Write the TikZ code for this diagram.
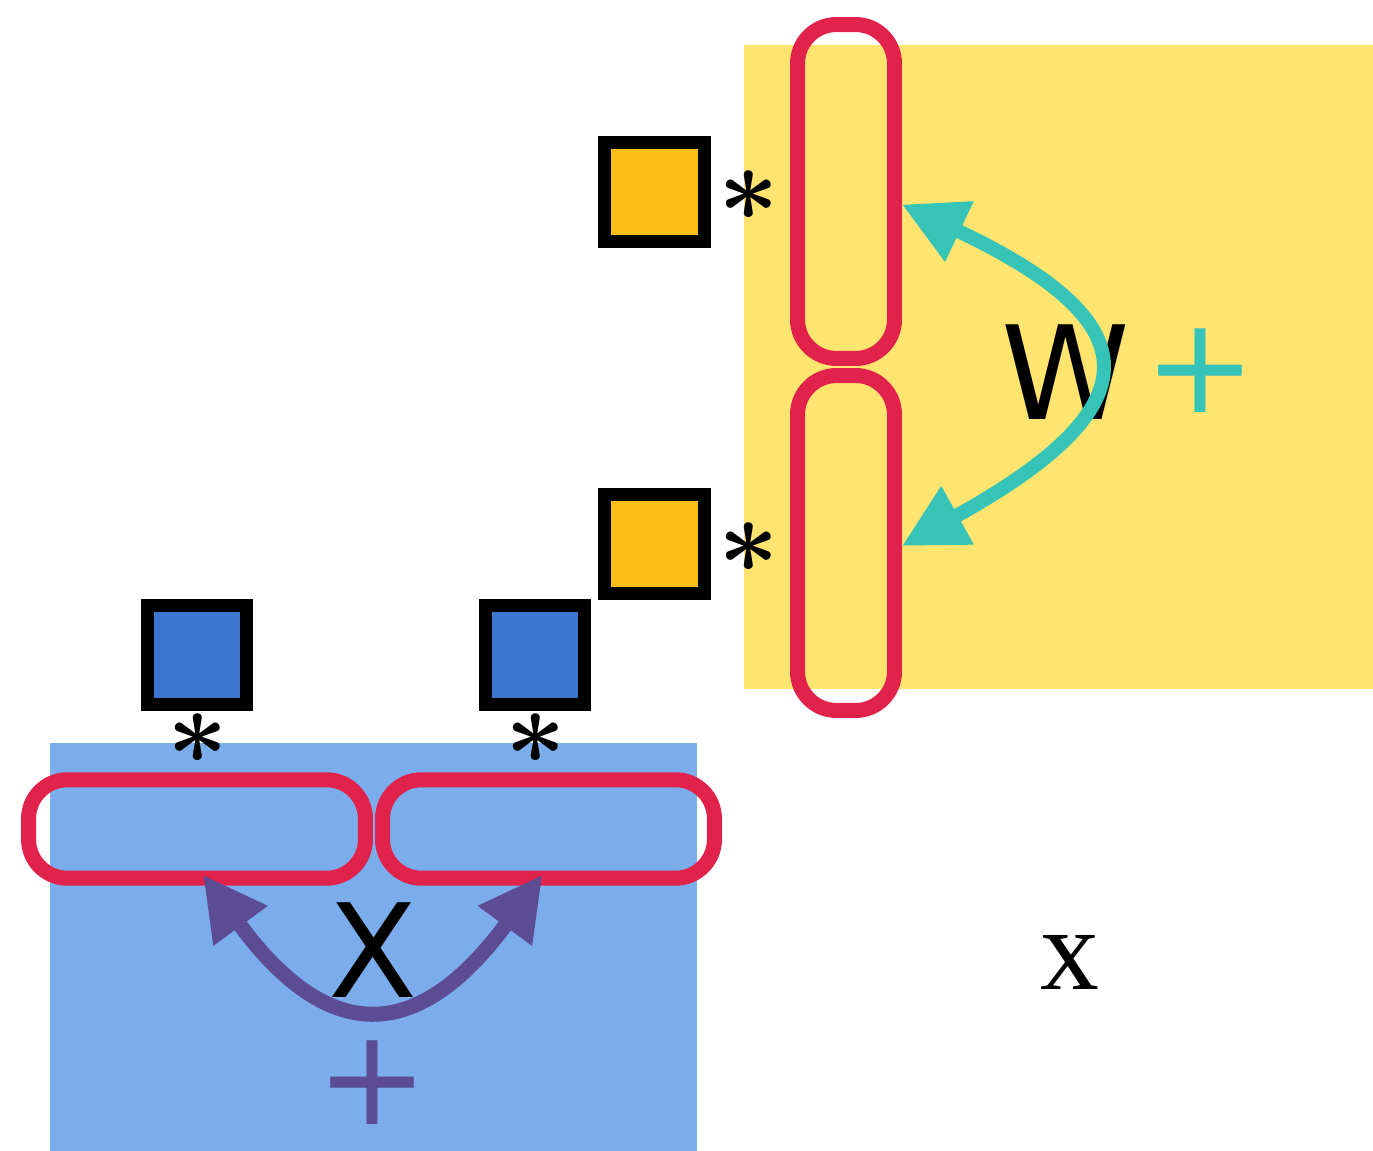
\RequirePackage{fix-cm}
\documentclass[tikz,border=0pt]{standalone}
\usepackage{fontspec}
\usepackage{tikz}
\usetikzlibrary{arrows.meta, calc}
\newfontfamily\dejavu{DejaVu Sans}
\newfontfamily\libserif{Liberation Serif}
\definecolor{myellow}{HTML}{FFE46F}
\definecolor{mblue}{HTML}{7BACEB}
\definecolor{mdarkblue}{HTML}{3D76D1}
\definecolor{morange}{HTML}{FDBE1A}
\definecolor{mred}{HTML}{E1224A}
\definecolor{mteal}{HTML}{36C4B9}
\definecolor{mpurple}{HTML}{5C4C94}
\tikzset{
  wbox/.style={draw=black, fill=morange, line width=0.26cm, minimum size=2cm, inner sep=0pt},
  xbox/.style={draw=black, fill=mdarkblue, line width=0.26cm, minimum size=2cm, inner sep=0pt},
  slotbox/.style={draw=mred, line width=0.3cm, rounded corners=0.78cm, inner sep=0pt},
  astlabel/.style={font=\fontsize{60}{64}\selectfont\boldmath, inner sep=0pt, anchor=north},
  biglabel/.style={font=\dejavu\fontsize{74}{80}\selectfont, inner sep=0pt},
  pluslabel/.style={font=\dejavu\fontsize{76}{80}\selectfont, inner sep=0pt},
  warr/.style={{Triangle[length=1.27cm,width=1.26cm]}-{Triangle[length=1.27cm,width=1.26cm]},
               line width=0.28cm, mteal},
  xarr/.style={{Triangle[length=1.27cm,width=1.26cm]}-{Triangle[length=1.27cm,width=1.26cm]},
               line width=0.3cm, mpurple},
}
\begin{document}
\begin{tikzpicture}[x=0.02cm, y=-0.02cm]
  \useasboundingbox (0,0) rectangle (1373,1151);
  % Backgrounds
  \fill[myellow] (744,45) rectangle (1373,689);
  \fill[mblue] (50,743) rectangle (697,1151);

  % Slots (W: vertical, X: horizontal)
  \node[slotbox, minimum width=1.94cm, minimum height=6.68cm] (wtop) at (846,191.5) {};
  \node[slotbox, minimum width=1.94cm, minimum height=6.7cm] (wbot) at (846,543) {};
  \node[slotbox, minimum width=6.74cm, minimum height=1.97cm] (xleft) at (197,829) {};
  \node[slotbox, minimum width=6.64cm, minimum height=1.97cm] (xright) at (548.5,829) {};

  % Squares
  \node[wbox] (wa) at (654.5,192) {};
  \node[wbox] (wb) at (654.5,544) {};
  \node[xbox] (xa) at (197,655) {};
  \node[xbox] (xb) at (535,655) {};

  % Asterisks
  \node[astlabel] (sa) at (749,170) {$\ast$};
  \node[astlabel] (sb) at (749,522) {$\ast$};
  \node[astlabel] (sc) at (198,713) {$\ast$};
  \node[astlabel] (sd) at (536,713) {$\ast$};

  % Labels
  \node[biglabel] (wlab) at (1066,372) {W};
  \node[pluslabel, mteal] (wplus) at (1200,371) {+};
  \node[biglabel] (xlab) at (373,950.5) {X};
  \node[pluslabel, mpurple] (xplus) at (372.5,1083) {+};
  \node[font=\libserif\fontsize{67}{70}\selectfont, inner sep=0pt] (xsmall) at (1070,962) {x};

  % Arrows
  \draw[warr] ($(wtop.east)+(0,13)$) .. controls +(250,118) and +(253,-140) .. ($(wbot.east)+(0,3)$);
  \draw[xarr] ($(xleft.south)+(6,-11)$) .. controls +(125,170) and +(-125,170) .. ($(xright.south)+(-6,-11)$);
\end{tikzpicture}
\end{document}
